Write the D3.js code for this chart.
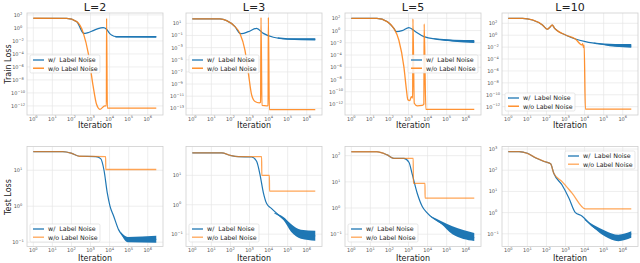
<!DOCTYPE html>
<html>
<head>
<meta charset="utf-8">
<script src="https://cdn.jsdelivr.net/npm/d3@7"></script>
<style>
  body { margin: 0; background: #fff; }
  text { font-family: "DejaVu Sans", sans-serif; }
</style>
</head>
<body>
<svg id="chart" width="640" height="263"></svg>
<script>
// panel titles
var depths = ["L=2", "L=3", "L=5", "L=10"]
var legendLabels = ["w/  Label Noise", "w/o Label Noise"]

// train loss, [iteration, loss]
var trainL2Noise = [[1,31],[56,30],[190,9.3],[420,0.16],[520,0.15],[800,0.2],[1380,0.39],[2500,0.8],[4600,1.1],[6900,0.63],[10000,0.15],[12600,0.083],[23000,0.046],[2.8e6,0.044]]
var trainL2Clean = [[1,31],[56,30],[190,9.3],[420,0.16],[760,1.3e-4],[1380,1e-9],[2090,1.6e-12],[3090,3e-13],[5600,1e-12],[6800,1e-12],[6950,31],[7600,4.5e-13],[2.8e6,4.5e-13]]
var trainL3Noise = [[1,52],[28,52],[63,28],[173,2.8],[316,0.22],[390,0.2],[870,0.43],[2350,1.5],[5300,0.22],[17800,0.05],[89000,0.026],[2.8e6,0.023]]
var trainL3Clean = [[1,52],[28,52],[63,28],[173,2.8],[316,0.22],[575,4e-4],[870,6.3e-8],[1290,1.6e-11],[1950,1.3e-12],[3240,8e-13],[3800,1e-12],[4000,98],[4500,3e-13],[7900,2.5e-13],[9400,3e-13],[9700,98],[11000,6e-14],[2.8e6,6e-14]]
var trainL5Noise = [[1,100],[22,100],[75,29],[170,2.3],[234,0.66],[460,0.95],[1040,3],[2340,0.66],[6400,0.1],[32000,0.037],[245000,0.022],[2.8e6,0.015]]
var trainL5Clean = [[1,100],[22,100],[75,29],[170,2.3],[310,0.029],[570,1.3e-6],[780,2e-10],[920,5e-12],[1170,3.5e-12],[1390,1.6e-11],[1650,1e-11],[1700,80],[2000,1.3e-12],[2880,5e-13],[5250,6e-13],[6400,1e-12],[6600,12],[8100,1.3e-13],[2.8e6,1.3e-13]]
var trainL10Noise = [[1,690],[5.6,690],[18.6,360],[62,52],[112,10],[150,21],[200,52],[270,14],[365,5.9],[1000,1.1],[3300,0.23],[11000,0.083],[80000,0.03],[400000,0.018],[2.8e6,0.015]]
var trainL10Clean = [[1,690],[5.6,690],[18.6,360],[62,52],[112,10],[150,21],[200,52],[270,14],[365,5.9],[1000,1.1],[3300,0.23],[7300,0.023],[8000,0.04],[8800,0.008],[9500,0.02],[11000,4e-13],[2.8e6,4e-13]]

// test loss, [iteration, loss]
var testL2Noise = [[1,33],[35,33],[95,30],[260,24.5],[1900,24],[3400,21],[5100,10],[7600,2.3],[10500,1.0],[16600,0.52],[30000,0.22],[49000,0.15],[81000,0.12],[2.8e6,0.12]]
var testL2Clean = [[1,33],[35,33],[95,30],[260,24.5],[6200,24],[6300,10.5],[2.8e6,10.5]]
var testL3Noise = [[1,58],[35,58],[95,48],[257,43],[1300,42],[2350,30],[3500,11],[5300,2.6],[7900,1.1],[14000,0.75],[89000,0.26],[450000,0.1],[2.8e6,0.087]]
var testL3Clean = [[1,58],[35,58],[95,48],[257,43],[4300,43],[4400,10],[11000,10],[11200,2.9],[2.8e6,2.9]]
var testL5Noise = [[1,141],[22,141],[76,107],[170,79],[570,79],[1050,56],[1550,20],[2880,3.6],[5250,1.15],[9500,0.65],[72000,0.23],[550000,0.087],[2.8e6,0.074]]
var testL5Clean = [[1,141],[22,141],[76,107],[170,79],[1770,79],[1800,8.7],[7300,8.7],[7400,2.4],[2.8e6,2.4]]
var testL10Noise = [[1,760],[3.7,760],[10,630],[28,380],[75,260],[165,200],[245,70],[660,20],[1500,4.9],[3300,1.0],[7200,0.7],[24000,0.24],[120000,0.1],[590000,0.063],[2.8e6,0.1]]
var testL10Clean = [[1,760],[3.7,760],[10,630],[28,380],[75,260],[165,200],[245,70],[660,29],[2200,8.3],[11000,1.5],[2.8e6,1.5]]

// spread of the noisy runs, [iteration, low, high]
var trainL2Band = [[20000,0.035,0.055],[2.8e6,0.032,0.058]]
var trainL3Band = [[30000,0.032,0.05],[100000,0.019,0.036],[2.8e6,0.015,0.035]]
var trainL5Band = [[20000,0.04,0.055],[245000,0.015,0.032],[2.8e6,0.009,0.028]]
var trainL10Band = [[30000,0.045,0.06],[400000,0.011,0.035],[2.8e6,0.008,0.035]]
var testL2Band = [[40000,0.17,0.19],[90000,0.1,0.14],[2.8e6,0.097,0.15]]
var testL3Band = [[20000,0.5,0.53],[60000,0.3,0.38],[150000,0.12,0.22],[500000,0.07,0.14],[2.8e6,0.06,0.13]]
var testL5Band = [[15000,0.45,0.48],[50000,0.25,0.32],[200000,0.1,0.2],[2.8e6,0.055,0.11]]
var testL10Band = [[10000,0.45,0.5],[30000,0.19,0.26],[120000,0.075,0.14],[590000,0.045,0.09],[2.8e6,0.065,0.13]]

// tick exponents and axis ranges (log10)
var xTicks = [0, 1, 2, 3, 4, 5, 6]
var trainTicks = [[2,0,-2,-4,-6,-8,-10,-12],[1,-1,-3,-5,-7,-9,-11,-13],[2,0,-2,-4,-6,-8,-10,-12],[2,0,-2,-4,-6,-8,-10,-12]]
var testTicks = [[1,0,-1],[1,0,-1],[2,1,0,-1],[3,2,1,0,-1]]
var trainRange = [[-13.4,2.3],[-14.1,2.7],[-13.8,2.87],[-13.4,3.73]]
var testRange = [[-1.12,1.66],[-1.42,1.98],[-1.47,2.35],[-1.6,3.12]]

var trainNoise = [trainL2Noise, trainL3Noise, trainL5Noise, trainL10Noise]
var trainClean = [trainL2Clean, trainL3Clean, trainL5Clean, trainL10Clean]
var trainBand = [trainL2Band, trainL3Band, trainL5Band, trainL10Band]
var testNoise = [testL2Noise, testL3Noise, testL5Noise, testL10Noise]
var testClean = [testL2Clean, testL3Clean, testL5Clean, testL10Clean]
var testBand = [testL2Band, testL3Band, testL5Band, testL10Band]

var blue = "#1f77b4", orange = "#ff7f0e"
var lefts = [27, 186, 345, 502]
var panelW = 136
var rows = [{top: 13, bottom: 115, lab: 127.5}, {top: 146.5, bottom: 246.5, lab: 260.5}]
// legend corners per panel (top row then bottom row)
var legendPos = [[[30,55],[189,55],[408,55],[505,93]], [[30,224],[189,224],[348,224],[565,151]]]

var svg = d3.select("#chart")

function sup(sel, base, exp, size) {
  sel.append("tspan").text(base)
  sel.append("tspan").attr("dy", -size * 0.45).style("font-size", (size * 0.72) + "px").text(exp)
}

function drawPanel(i, r, noise, clean, band, ticks, range) {
  var left = lefts[i], top = rows[r].top, bottom = rows[r].bottom
  var x = d3.scaleLog().domain([Math.pow(10, -0.33), Math.pow(10, 6.8)]).range([left, left + panelW])
  var y = d3.scaleLog().domain([Math.pow(10, range[0]), Math.pow(10, range[1])]).range([bottom, top])
  var g = svg.append("g")
  var id = "clip" + r + "_" + i
  g.append("clipPath").attr("id", id).append("rect")
    .attr("x", left).attr("y", top).attr("width", panelW).attr("height", bottom - top)

  // grid
  g.selectAll(".gx").data(xTicks).enter().append("line")
    .attr("x1", function(d) { return x(Math.pow(10, d)) })
    .attr("x2", function(d) { return x(Math.pow(10, d)) })
    .attr("y1", top).attr("y2", bottom)
    .attr("stroke", "#e6e6e6").attr("stroke-width", 0.7)
  g.selectAll(".gy").data(ticks).enter().append("line")
    .attr("y1", function(d) { return y(Math.pow(10, d)) })
    .attr("y2", function(d) { return y(Math.pow(10, d)) })
    .attr("x1", left).attr("x2", left + panelW)
    .attr("stroke", "#e6e6e6").attr("stroke-width", 0.7)

  // tick labels
  g.selectAll(".tx").data(xTicks).enter().append("text")
    .attr("x", function(d) { return x(Math.pow(10, d)) })
    .attr("y", bottom + 5.5)
    .attr("text-anchor", "middle").style("font-size", "5px").attr("fill", "#555")
    .each(function(d) { sup(d3.select(this), "10", d, 5) })
  g.selectAll(".ty").data(ticks).enter().append("text")
    .attr("x", left - 9)
    .attr("y", function(d) { return y(Math.pow(10, d)) + 2 })
    .attr("text-anchor", "middle").style("font-size", "5px").attr("fill", "#555")
    .each(function(d) { sup(d3.select(this), "10", d < 0 ? "\u2212" + (-d) : d, 5) })

  var plot = g.append("g").attr("clip-path", "url(#" + id + ")")
  var line = d3.line()
    .x(function(d) { return x(d[0]) })
    .y(function(d) { return y(d[1]) })
    .curve(d3.curveMonotoneX)
  var area = d3.area()
    .x(function(d) { return x(d[0]) })
    .y0(function(d) { return y(d[1]) })
    .y1(function(d) { return y(d[2]) })
    .curve(d3.curveMonotoneX)

  plot.append("path").attr("d", area(band)).attr("fill", blue)
  plot.append("path").attr("d", line(noise))
    .attr("fill", "none").attr("stroke", blue).attr("stroke-width", 1.2)
  plot.append("path").attr("d", line(clean))
    .attr("fill", "none").attr("stroke", orange).attr("stroke-width", 1.3)
    .attr("stroke-opacity", r == 0 ? 0.85 : 0.7)

  // frame
  g.append("rect").attr("x", left).attr("y", top).attr("width", panelW).attr("height", bottom - top)
    .attr("fill", "none").attr("stroke", "#cfcfcf").attr("stroke-width", 0.8)

  // legend
  var lp = legendPos[r][i]
  var lg = g.append("g").attr("transform", "translate(" + lp[0] + "," + lp[1] + ")")
  lg.append("rect").attr("width", 70).attr("height", 18).attr("rx", 1.5)
    .attr("fill", "#fff").attr("fill-opacity", 0.85).attr("stroke", "#d8d8d8").attr("stroke-width", 0.6)
  ;[blue, orange].forEach(function(c, k) {
    var yy = 5 + k * 8.2
    lg.append("line").attr("x1", 3).attr("x2", 14).attr("y1", yy).attr("y2", yy)
      .attr("stroke", c).attr("stroke-width", 1.3).attr("stroke-opacity", k == 1 && r == 1 ? 0.7 : 1)
    lg.append("text").attr("x", 18).attr("y", yy + 2.3)
      .style("font-size", "6.3px").style("white-space", "pre").attr("fill", "#222")
      .text(legendLabels[k])
  })

  // x label
  g.append("text").attr("x", left + panelW / 2).attr("y", rows[r].lab)
    .attr("text-anchor", "middle").style("font-size", "8px").attr("fill", "#222").text("Iteration")
}

for (var i = 0; i < 4; i++) {
  drawPanel(i, 0, trainNoise[i], trainClean[i], trainBand[i], trainTicks[i], trainRange[i])
  drawPanel(i, 1, testNoise[i], testClean[i], testBand[i], testTicks[i], testRange[i])
  svg.append("text").attr("x", lefts[i] + panelW / 2).attr("y", 10.5)
    .attr("text-anchor", "middle").style("font-size", "11px").attr("fill", "#222").text(depths[i])
}

svg.append("text").attr("transform", "translate(11,64) rotate(-90)")
  .attr("text-anchor", "middle").style("font-size", "8px").attr("fill", "#222").text("Train Loss")
svg.append("text").attr("transform", "translate(11,197) rotate(-90)")
  .attr("text-anchor", "middle").style("font-size", "8px").attr("fill", "#222").text("Test Loss")
</script>
</body>
</html>
